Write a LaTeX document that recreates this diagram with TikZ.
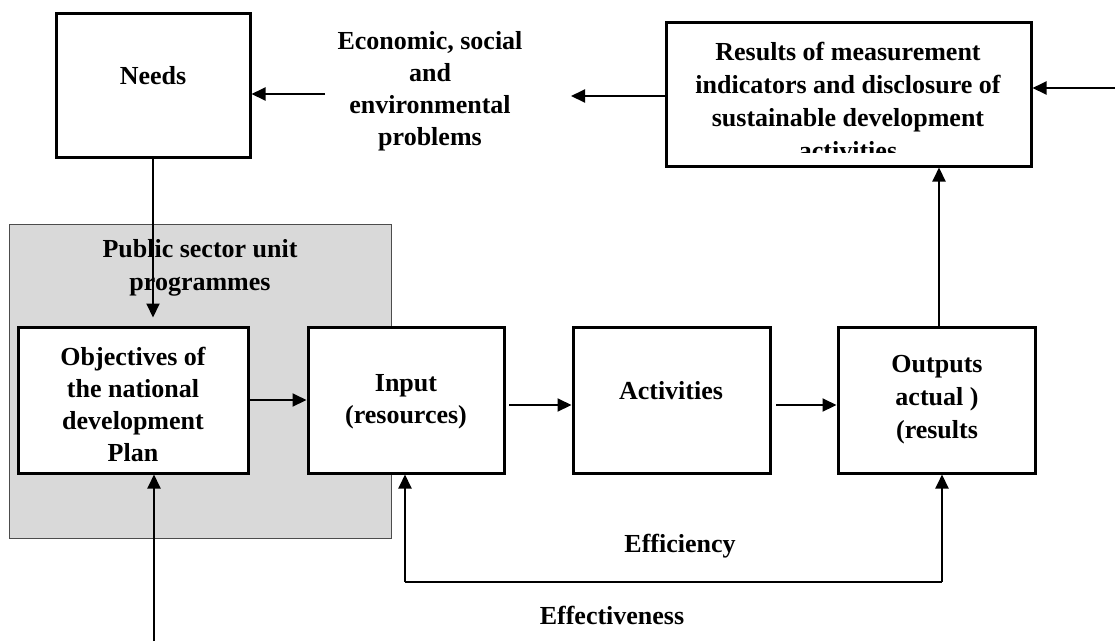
\documentclass[tikz,border=0pt]{standalone}
\usepackage{fontspec}
\setmainfont{Liberation Serif}
\usetikzlibrary{arrows.meta}
\begin{document}
\begin{tikzpicture}[x=1pt,y=-1pt,
  box/.style={draw,line width=3pt,fill=white,rectangle,inner sep=0pt},
  lbl/.style={font=\fontsize{26}{32}\selectfont\bfseries,align=center,inner sep=0pt},
  arr/.style={line width=2pt,-{Triangle[length=14pt,width=13pt]}},
  ln/.style={line width=1.6pt}]
\useasboundingbox (0,0) rectangle (1115,641);

% shaded programme area
\node[draw=black!70, line width=1pt, fill=black!15, minimum width=382pt,
      minimum height=314pt, inner sep=0pt] (prog) at (200,381) {};

% boxes
\node[box, minimum width=194pt, minimum height=144pt] (needs) at (153,85) {};
\node[box, minimum width=230pt, minimum height=146pt] (obj) at (133,400) {};
\node[box, minimum width=196pt, minimum height=146pt] (inp) at (406,400) {};
\node[box, minimum width=197pt, minimum height=146pt] (act) at (671.5,400) {};
\node[box, minimum width=197pt, minimum height=146pt] (out) at (936.5,400) {};
\node[box, minimum width=365pt, minimum height=144pt] (res) at (848.5,94) {};

% texts
\node[lbl] (tneeds) at (153,76) {Needs};
\node[lbl] (tecon) at (430,91) {Economic, social\\and\\environmental\\problems};
\begin{scope}
  % the last line runs past the bottom of its box and is cut off
  \clip (668,24) rectangle (1029,152);
  \node[lbl, font=\fontsize{26}{33}\selectfont\bfseries] (tres) at (848,101)
    {Results of measurement\\indicators and disclosure of\\sustainable development\\activities};
\end{scope}
\node[lbl, font=\fontsize{26}{33}\selectfont\bfseries] (tprog) at (200,268) {Public sector unit\\programmes};
\node[lbl] (tobj) at (133,404) {Objectives of\\the national\\development\\Plan};
\node[lbl] (tinp) at (406,402) {Input\\(resources)};
\node[lbl] (tact) at (671,391) {Activities};
\node[lbl, font=\fontsize{26}{33}\selectfont\bfseries] (tout) at (937,400) {Outputs\\actual )\\(results};
\node[lbl] (teff) at (680,546) {Efficiency};
\node[lbl] (teffv) at (612,615) {Effectiveness};

% connector end points
\coordinate (econin) at (325,94);
\coordinate (econout) at (571,96);
\coordinate (rin) at (1115,88);
\coordinate (bin) at (154,641);
\coordinate (ia) at (509,405);
\coordinate (ao) at (776,405);
\coordinate (lb1) at (405,582);
\coordinate (lb2) at (942,582);

% connectors
\draw[arr] (econin) -- (econin -| needs.east);
\draw[arr] (econout -| res.west) -- (econout);
\draw[arr] (rin) -- (rin -| res.east);
\draw[arr, shorten >=8pt] (needs.south) -- (needs.south |- obj.north);
\draw[arr] (bin) -- (bin |- obj.south);
\draw[arr] (obj.east) -- (inp.west);
\draw[arr] (ia) -- (ia -| act.west);
\draw[arr] (ao) -- (ao -| out.west);
\draw[arr] ([xshift=2.5pt]out.north) -- ([xshift=2.5pt]out.north |- res.south);
\draw[ln] (lb1) -- (lb2);
\draw[arr] (lb1) -- (lb1 |- inp.south);
\draw[arr] (lb2) -- (lb2 |- out.south);
\end{tikzpicture}
\end{document}
